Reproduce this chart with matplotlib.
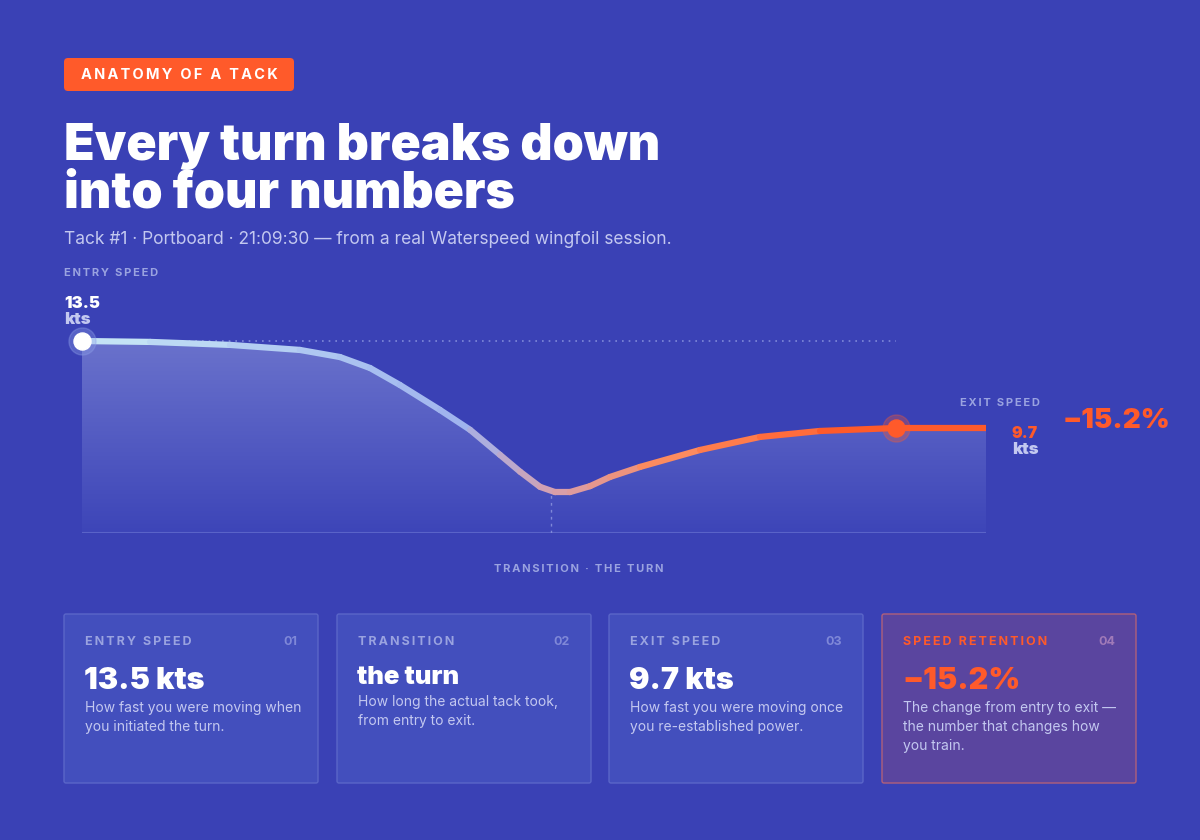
import numpy as np
import matplotlib
matplotlib.use("Agg")
import matplotlib.pyplot as plt
from matplotlib.patches import FancyBboxPatch, Polygon
from matplotlib.collections import LineCollection
from matplotlib.colors import LinearSegmentedColormap

# ── Data ──────────────────────────────────────────────────────────────────────
time_s = [0, 2.26, 4.91, 7.23, 8.56, 9.56, 10.55, 11.88, 12.88, 13.87, 14.54,
          15.20, 15.70, 16.19, 16.86, 17.52, 18.52, 20.51, 22.50, 24.49, 27.01, 30.0]
speed_kts = [13.5, 13.46, 13.33, 13.11, 12.80, 12.32, 11.58, 10.49, 9.62, 8.53,
             7.79, 7.13, 6.90, 6.90, 7.16, 7.56, 8.00, 8.74, 9.31, 9.57, 9.70, 9.70]
ENTRY, EXIT, RETENTION = 13.5, 9.7, "−15.2%"
EXIT_T = 27.01
TRANSITION_T = 15.56

cards = [
    ("ENTRY SPEED", "01", "13.5 kts", "How fast you were moving when\nyou initiated the turn."),
    ("TRANSITION", "02", "the turn", "How long the actual tack took,\nfrom entry to exit."),
    ("EXIT SPEED", "03", "9.7 kts", "How fast you were moving once\nyou re-established power."),
    ("SPEED RETENTION", "04", RETENTION, "The change from entry to exit —\nthe number that changes how\nyou train."),
]

# ── Palette ───────────────────────────────────────────────────────────────────
BG = "#3a41b5"
ORANGE = "#ff5a2a"
MUTED = "#9aa3e0"
SUB = "#c3c8f0"
plt.rcParams["font.family"] = ["Inter", "DejaVu Sans"]


def spaced(s):
    # crude letter-spacing for small caps labels
    return "\u2009".join(s)


fig = plt.figure(figsize=(12, 8.4), dpi=100)
fig.patch.set_facecolor(BG)
ax = fig.add_axes([0, 0, 1, 1])
ax.set_xlim(0, 1200)
ax.set_ylim(840, 0)
ax.axis("off")

# ── Header ────────────────────────────────────────────────────────────────────
ax.add_patch(FancyBboxPatch((64, 58), 230, 33, boxstyle="round,pad=0,rounding_size=4",
                            facecolor=ORANGE, edgecolor="none"))
ax.text(179, 75, spaced("ANATOMY OF A TACK"), ha="center", va="center", color="white",
        fontsize=10.5, fontweight="bold")
ax.text(64, 170, "Every turn breaks down\ninto four numbers", ha="left", va="center",
        color="white", fontsize=36, fontweight="black", linespacing=1.02)
ax.text(64, 240, "Tack #1 · Portboard · 21:09:30 — from a real Waterspeed wingfoil session.",
        ha="left", va="center", color=SUB, fontsize=12.5)
ax.text(64, 273, spaced("ENTRY SPEED"), ha="left", va="center", color=MUTED, fontsize=8,
        fontweight="bold")

# ── Chart axes: x pixels 82..986, baseline y=533, 13.5 kts at y=341 ──────────
px_per_kt = (428 - 341) / (ENTRY - EXIT)
y_base = ENTRY - (533 - 341) / px_per_kt
cax = fig.add_axes([82 / 1200, (840 - 533) / 840, 904 / 1200, 533 / 840])
cax.set_xlim(0, 30)
cax.set_ylim(y_base, y_base + 533 / px_per_kt)
cax.axis("off")

t = np.array(time_s)
s = np.array(speed_kts)

# gradient area fill
grad = np.linspace(1, 0, 256).reshape(-1, 1)
fill_cmap = LinearSegmentedColormap.from_list("f", ["#3d45b8", "#6a72cc"])
im = cax.imshow(grad, extent=[0, 30, y_base, ENTRY], aspect="auto", cmap=fill_cmap,
                origin="upper", zorder=1)
im.set_clip_path(Polygon(np.column_stack([np.r_[t, 30, 0], np.r_[s, y_base, y_base]]),
                         transform=cax.transData))
cax.plot([0, 30], [y_base, y_base], color="#5a63c8", lw=1.5, zorder=2)

# dotted reference + transition marker
cax.plot([0, 27.0], [ENTRY, ENTRY], color="#7f88d8", lw=1.2, ls=(0, (1, 3)), zorder=2)
cax.plot([TRANSITION_T, TRANSITION_T], [y_base, 6.9], color="#7f88d8", lw=1,
         ls=(0, (2, 3)), zorder=2)

# gradient line
line_cmap = LinearSegmentedColormap.from_list(
    "l", [(0, "#c4e3f5"), (0.42, "#9fb3ee"), (0.53, "#d6a0ae"), (0.68, "#ff8a5a"),
          (0.9, "#ff5a2a"), (1, "#ff5a2a")])
pts = np.column_stack([t, s]).reshape(-1, 1, 2)
segs = np.concatenate([pts[:-1], pts[1:]], axis=1)
lc = LineCollection(segs, cmap=line_cmap, linewidths=4.5, capstyle="round",
                    joinstyle="round", zorder=3)
lc.set_array((t[:-1] + t[1:]) / 2 / 30)
cax.add_collection(lc)

# markers
cax.scatter([0], [ENTRY], s=380, color="#8ea0e8", alpha=0.35, zorder=4, clip_on=False)
cax.scatter([0], [ENTRY], s=150, color="white", zorder=5, clip_on=False)
exit_y = np.interp(EXIT_T, t, s)
cax.scatter([EXIT_T], [exit_y], s=380, color=ORANGE, alpha=0.3, zorder=4)
cax.scatter([EXIT_T], [exit_y], s=150, color=ORANGE, zorder=5)

# ── Chart labels ──────────────────────────────────────────────────────────────
ax.text(64, 303, f"{ENTRY}", ha="left", va="center", color="white", fontsize=12,
        fontweight="black")
ax.text(64, 320, "kts", ha="left", va="center", color=SUB, fontsize=12, fontweight="black")
ax.text(1040, 403, spaced("EXIT SPEED"), ha="right", va="center", color=MUTED, fontsize=8,
        fontweight="bold")
ax.text(1012, 433, f"{EXIT}", ha="left", va="center", color=ORANGE, fontsize=11.5,
        fontweight="black")
ax.text(1012, 450, "kts", ha="left", va="center", color=SUB, fontsize=12, fontweight="black")
ax.text(1063, 421, RETENTION, ha="left", va="center", color=ORANGE, fontsize=20,
        fontweight="black")
ax.text(579, 569, spaced("TRANSITION · THE TURN"), ha="center", va="center", color=MUTED,
        fontsize=8, fontweight="bold")

# ── Cards ─────────────────────────────────────────────────────────────────────
card_x = [64, 337, 609, 882]
for i, (cx0, (lab, num, big, desc)) in enumerate(zip(card_x, cards)):
    last = i == len(cards) - 1
    face = "#5a459f" if last else "#434fbd"
    edge = "#b0607a" if last else "#5a66c8"
    ax.add_patch(FancyBboxPatch((cx0, 614), 254, 169, boxstyle="round,pad=0,rounding_size=2",
                                facecolor=face, edgecolor=edge, lw=1))
    ax.text(cx0 + 21, 642, spaced(lab), ha="left", va="center", color=ORANGE if last else MUTED,
            fontsize=9, fontweight="bold")
    ax.text(cx0 + 233, 642, num, ha="right", va="center",
            color="#a07ab8" if last else "#7f88d8", fontsize=9, fontweight="bold")
    big_y = 677 if i == 1 else 681
    ax.text(cx0 + 20, big_y, big, ha="left", va="center", color=ORANGE if last else "white",
            fontsize=22 if i != 1 else 18.5, fontweight="black")
    desc_y = 695 if i == 1 else 701
    ax.text(cx0 + 21, desc_y, desc, ha="left", va="top", color=SUB, fontsize=10,
            linespacing=1.45)

fig.savefig("out.png", dpi=100, facecolor=BG)
